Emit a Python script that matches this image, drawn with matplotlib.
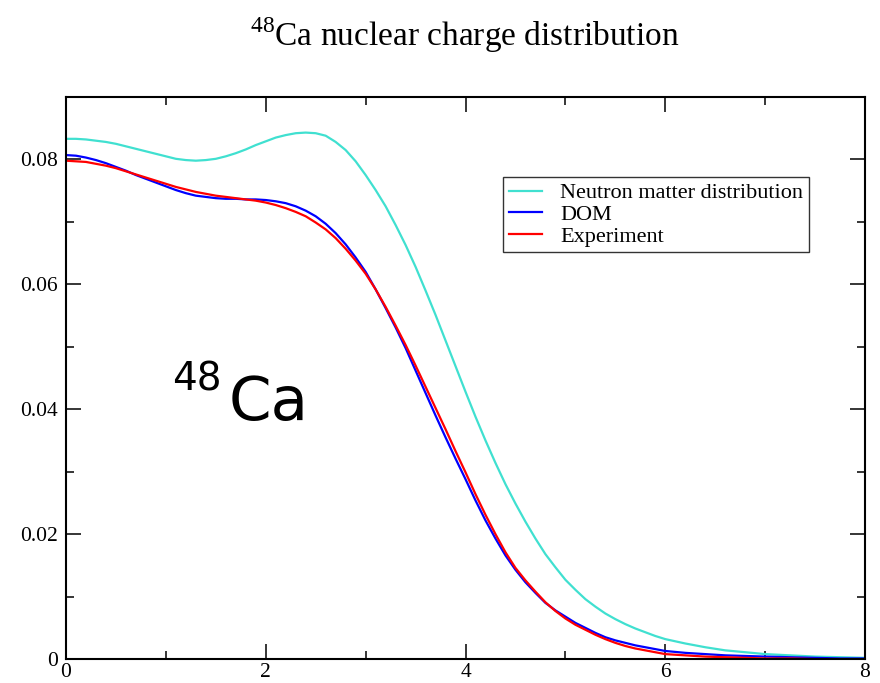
import matplotlib
matplotlib.use("Agg")
import matplotlib.pyplot as plt
from matplotlib.ticker import MultipleLocator

plt.rcParams['font.family'] = ['Liberation Serif', 'DejaVu Serif']
plt.rcParams['mathtext.fontset'] = 'custom'
plt.rcParams['mathtext.rm'] = 'Liberation Serif'

# radius (fm)
r = [0.0, 0.1, 0.2, 0.3, 0.4, 0.5, 0.6, 0.7, 0.8, 0.9,
     1.0, 1.1, 1.2, 1.3, 1.4, 1.5, 1.6, 1.7, 1.8, 1.9,
     2.0, 2.1, 2.2, 2.3, 2.4, 2.5, 2.6, 2.7, 2.8, 2.9,
     3.0, 3.1, 3.2, 3.3, 3.4, 3.5, 3.6, 3.7, 3.8, 3.9,
     4.0, 4.1, 4.2, 4.3, 4.4, 4.5, 4.6, 4.7, 4.8, 4.9,
     5.0, 5.1, 5.2, 5.3, 5.4, 5.5, 5.6, 5.7, 5.8, 5.9,
     6.0, 6.2, 6.4, 6.6, 6.8, 7.0, 7.25, 7.5, 7.75, 8.0]

neutron = [0.0833, 0.0833, 0.0832, 0.0830, 0.0828, 0.0825, 0.0821, 0.0817, 0.0813, 0.0809,
           0.0805, 0.0801, 0.0799, 0.0798, 0.0799, 0.0801, 0.0805, 0.0810, 0.0816, 0.0823,
           0.0829, 0.0835, 0.0839, 0.0842, 0.0843, 0.0842, 0.0838, 0.0828, 0.0815, 0.0797,
           0.0775, 0.0751, 0.0725, 0.0695, 0.0663, 0.0628, 0.0590, 0.0551, 0.0510, 0.0469,
           0.0428, 0.0388, 0.0350, 0.0314, 0.0280, 0.0249, 0.0220, 0.0193, 0.0168, 0.0147,
           0.0127, 0.0111, 0.0096, 0.0084, 0.0073, 0.0064, 0.0056, 0.0049, 0.0043, 0.0037,
           0.0032, 0.0025, 0.0019, 0.0014, 0.0011, 0.0008, 0.0006, 0.0004, 0.0003, 0.0002]

dom = [0.0807, 0.0806, 0.0803, 0.0799, 0.0794, 0.0788, 0.0782, 0.0775, 0.0769, 0.0763,
       0.0757, 0.0751, 0.0746, 0.0742, 0.0740, 0.0738, 0.0737, 0.0737, 0.0736, 0.0736,
       0.0735, 0.0733, 0.0730, 0.0725, 0.0718, 0.0709, 0.0697, 0.0682, 0.0664, 0.0643,
       0.0620, 0.0592, 0.0562, 0.0531, 0.0498, 0.0462, 0.0426, 0.0390, 0.0355, 0.0321,
       0.0288, 0.0254, 0.0222, 0.0193, 0.0166, 0.0143, 0.0123, 0.0106, 0.0090, 0.0078,
       0.0068, 0.0058, 0.0050, 0.0042, 0.0035, 0.0030, 0.0026, 0.0022, 0.0019, 0.0016,
       0.0013, 0.0010, 0.0008, 0.0006, 0.0005, 0.0004, 0.0003, 0.0002, 0.0001, 0.0001]

experiment = [0.0798, 0.0797, 0.0796, 0.0793, 0.0790, 0.0786, 0.0781, 0.0776, 0.0771, 0.0766,
              0.0761, 0.0756, 0.0752, 0.0748, 0.0745, 0.0742, 0.0740, 0.0738, 0.0736, 0.0734,
              0.0731, 0.0727, 0.0722, 0.0716, 0.0709, 0.0699, 0.0688, 0.0674, 0.0657, 0.0638,
              0.0617, 0.0592, 0.0564, 0.0534, 0.0503, 0.0470, 0.0436, 0.0402, 0.0368, 0.0333,
              0.0299, 0.0264, 0.0231, 0.0200, 0.0171, 0.0146, 0.0126, 0.0108, 0.0091, 0.0077,
              0.0065, 0.0055, 0.0047, 0.0039, 0.0032, 0.0026, 0.0021, 0.0017, 0.0014, 0.0011,
              0.0008, 0.0006, 0.0004, 0.0003, 0.0002, 0.0001, 0.0001, 0.0000, 0.0000, 0.0000]

fig = plt.figure(figsize=(8.8, 6.83), dpi=100)
ax = fig.add_axes([0.075, 0.035, 0.908, 0.823])

ax.plot(r, neutron, color='#40e0d0', lw=1.6, label='Neutron matter distribution')
ax.plot(r, dom, color='#0000ff', lw=1.6, label='DOM')
ax.plot(r, experiment, color='#ff0000', lw=1.6, label='Experiment')

ax.set_xlim(0, 8)
ax.set_ylim(0, 0.09)
ax.xaxis.set_major_locator(MultipleLocator(2))
ax.xaxis.set_minor_locator(MultipleLocator(1))
ax.set_yticks([0, 0.02, 0.04, 0.06, 0.08])
ax.set_yticklabels(['0', '0.02', '0.04', '0.06', '0.08'])
ax.yaxis.set_minor_locator(MultipleLocator(0.01))
ax.tick_params(which='both', direction='in', top=True, right=True, width=1.1,
               labelsize=15.5)
ax.tick_params(axis='y', which='both', pad=6)
ax.tick_params(axis='x', which='both', pad=3)
ax.tick_params(which='major', length=11)
ax.tick_params(which='minor', length=5.5)
for s in ax.spines.values():
    s.set_linewidth(1.5)

fig.text(0.528, 0.948, r'$^{48}$Ca nuclear charge distribution', ha='center', va='center',
         fontsize=24)

leg = ax.legend(loc='upper left', bbox_to_anchor=(0.5475, 0.857), fontsize=16,
                frameon=True, fancybox=False, edgecolor='black', handlelength=1.5,
                handletextpad=0.8, borderpad=0.25, labelspacing=0.05, borderaxespad=0)
leg.get_frame().set_linewidth(1.0)

ax.text(0.133, 0.477, '48', transform=ax.transAxes, fontsize=28,
        family=['DejaVu Sans'], ha='left', va='baseline')
ax.text(0.203, 0.425, 'Ca', transform=ax.transAxes, fontsize=44,
        family=['DejaVu Sans'], ha='left', va='baseline')

fig.savefig('out.png', dpi=100)
